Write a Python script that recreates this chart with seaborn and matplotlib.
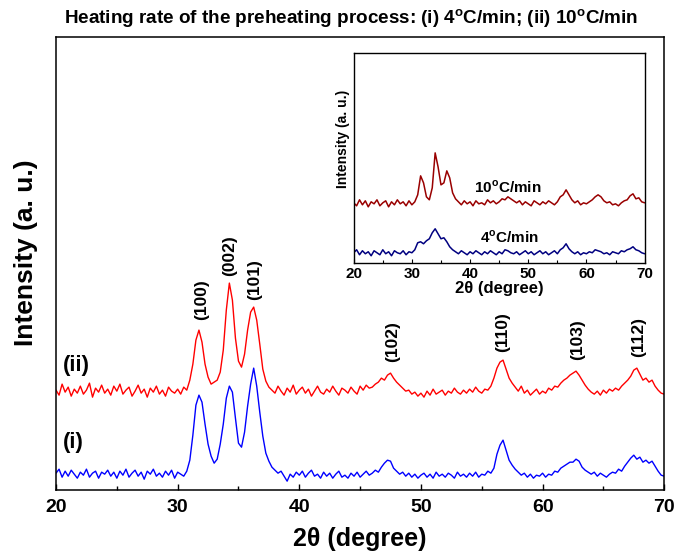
#!/usr/bin/env python3
"""
XRD patterns of ZnO films for two preheating rates, with an inset
showing the same patterns recorded on a smaller scale.
"""

import numpy as np
import matplotlib
matplotlib.use("Agg")
import matplotlib.pyplot as plt
from matplotlib.ticker import MultipleLocator
import seaborn as sns

# ── data ──────────────────────────────────────────────────────
# main panel: 2theta 20..70 in 0.25 degree steps
two_theta_main = np.linspace(20, 70, 201)

intensity_i = [
    17, 21, 13, 19, 14, 20, 16, 12,
    18, 15, 21, 13, 17, 19, 12, 18,
    16, 20, 14, 18, 12, 19, 15, 21,
    13, 17, 20, 14, 18, 11, 19, 16,
    21, 14, 17, 13, 19, 15, 20, 12,
    18, 16, 14, 19, 30, 55, 85, 95,
    88, 66, 46, 34, 27, 31, 46, 66,
    92, 104, 98, 72, 47, 43, 58, 84,
    106, 122, 104, 78, 54, 37, 29, 23,
    20, 17, 19, 14, 9, 16, 13, 18,
    15, 19, 13, 17, 20, 14, 16, 12,
    18, 14, 17, 12, 16, 19, 13, 15,
    12, 17, 14, 18, 13, 16, 19, 15,
    17, 20, 18, 23, 27, 30, 29, 22,
    19, 16, 18, 14, 17, 13, 16, 12,
    15, 17, 13, 16, 12, 18, 14, 16,
    13, 17, 15, 12, 18, 14, 16, 13,
    17, 14, 18, 13, 16, 15, 19, 17,
    22, 36, 45, 50, 40, 30, 25, 21,
    18, 15, 17, 13, 16, 12, 15, 14,
    17, 13, 16, 15, 19, 18, 22, 24,
    26, 28, 28, 31, 29, 23, 20, 18,
    16, 18, 14, 17, 15, 13, 16, 18,
    17, 21, 19, 24, 28, 32, 35, 31,
    33, 28, 30, 27, 29, 24, 19, 15,
    14,
]

intensity_ii = [
    100, 95, 106, 98, 103, 94, 101, 97,
    104, 96, 100, 107, 93, 102, 98, 105,
    97, 101, 95, 104, 99, 106, 96, 100,
    103, 94, 99, 105, 97, 101, 93, 102,
    98, 104, 96, 100, 94, 103, 99, 97,
    101, 96, 103, 100, 110, 126, 150, 160,
    148, 126, 113, 106, 108, 110, 118, 140,
    180, 207, 190, 152, 129, 123, 136, 160,
    178, 183, 170, 146, 121, 109, 103, 100,
    97, 104, 99, 95, 102, 98, 105, 96,
    100, 103, 97, 101, 94, 99, 104, 98,
    96, 101, 98, 104, 99, 95, 102, 100,
    97, 103, 99, 96, 104, 100, 105, 102,
    103, 106, 108, 112, 110, 115, 117, 112,
    108, 105, 102, 99, 100, 96, 98, 94,
    97, 93, 99, 95, 101, 96, 98, 100,
    95, 99, 97, 102, 98, 96, 100, 97,
    101, 98, 103, 99, 97, 101, 100, 104,
    112, 122, 128, 130, 121, 112, 107, 103,
    99, 104, 97, 100, 95, 98, 101, 96,
    99, 97, 102, 100, 104, 103, 107, 110,
    112, 115, 117, 119, 115, 110, 105, 101,
    98, 96, 99, 95, 100, 97, 101, 99,
    102, 100, 104, 107, 110, 114, 120, 122,
    116, 110, 112, 108, 110, 104, 100, 97,
    96,
]

# inset: 2theta 20..70 in 0.5 degree steps
two_theta_inset = np.linspace(20, 70, 101)

inset_10 = [
    60, 57, 63, 58, 62, 56, 61, 59,
    63, 57, 60, 62, 56, 61, 58, 63,
    59, 61, 57, 62, 58, 61, 68, 87,
    80, 66, 63, 75, 110, 96, 78, 80,
    92, 85, 70, 64, 61, 58, 62, 59,
    61, 57, 62, 59, 60, 58, 63, 60,
    62, 59, 61, 64, 63, 66, 64, 62,
    60, 62, 58, 61, 59, 57, 62, 60,
    58, 61, 59, 62, 60, 58, 61, 66,
    68, 73, 68, 63, 60, 62, 58, 60,
    59, 61, 63, 66, 68, 66, 62, 60,
    61, 58, 59, 57, 60, 62, 63, 67,
    69, 64, 65, 61,
    60,
]

inset_4 = [
    10, 13, 8, 12, 9, 11, 7, 12,
    10, 8, 13, 9, 11, 7, 12, 10,
    9, 12, 8, 11, 10, 13, 20, 21,
    19, 22, 24, 30, 34, 29, 24, 25,
    21, 16, 13, 11, 9, 12, 10, 8,
    11, 9, 12, 10, 8, 11, 9, 12,
    10, 8, 11, 9, 13, 12, 10, 9,
    11, 8, 10, 12, 9, 11, 8, 10,
    12, 9, 11, 8, 10, 12, 9, 13,
    15, 19, 14, 11, 9, 11, 8, 10,
    9, 11, 10, 13, 12, 11, 9, 10,
    8, 11, 10, 9, 12, 11, 13, 14,
    16, 13, 12, 10,
    9,
]

# peak labels: (hkl, 2theta, y of label bottom)
peak_labels = ["(100)", "(002)", "(101)", "(102)", "(110)", "(103)", "(112)"]
peak_pos = [32.0, 34.3, 36.3, 47.7, 56.7, 62.85, 67.9]
peak_label_y = [170, 214, 190, 128, 138, 130, 133]

DEG = r"$^{\mathbf{o}}$"
TITLE = f"Heating rate of the preheating process: (i) 4{DEG}C/min; (ii) 10{DEG}C/min"


def style_frame(ax, lw=1.1):
    for sp in ax.spines.values():
        sp.set_visible(True)
        sp.set_linewidth(lw)
        sp.set_color("black")


def main():
    sns.set_style("white")
    plt.rcParams["font.family"] = ["Liberation Sans", "DejaVu Sans"]
    plt.rcParams["font.weight"] = "bold"
    plt.rcParams["mathtext.fontset"] = "custom"
    plt.rcParams["mathtext.rm"] = "Liberation Sans:bold"
    plt.rcParams["mathtext.bf"] = "Liberation Sans:bold"
    for key in ("text.color", "axes.labelcolor", "xtick.color", "ytick.color"):
        plt.rcParams[key] = "black"

    fig = plt.figure(figsize=(6.75, 5.52), dpi=100)
    ax = fig.add_axes([0.083, 0.112, 0.901, 0.821])

    # ── main patterns ─────────────────────────────────────────
    sns.lineplot(x=two_theta_main, y=intensity_ii, ax=ax, color="#ff0000", lw=1.0)
    sns.lineplot(x=two_theta_main, y=intensity_i, ax=ax, color="#0000ff", lw=1.0)

    ax.set_xlim(20, 70)
    ax.set_ylim(0, 453)
    ax.set_yticks([])
    ax.xaxis.set_major_locator(MultipleLocator(10))
    ax.xaxis.set_minor_locator(MultipleLocator(5))
    ax.tick_params(axis="x", which="both", direction="in", bottom=True, top=False)
    ax.tick_params(axis="x", which="major", length=4, width=1, labelsize=14, pad=6)
    ax.tick_params(axis="x", which="minor", length=3, width=1)
    for lab in ax.get_xticklabels():
        lab.set_fontweight("bold")
    style_frame(ax)

    ax.set_xlabel("2θ (degree)", fontsize=18, fontweight="bold")
    ax.xaxis.set_label_coords(0.5, -0.082)
    ax.xaxis.label.set_va("top")
    ax.set_ylabel("Intensity (a. u.)", fontsize=19, fontweight="bold")
    ax.yaxis.set_label_coords(-0.03, 0.523)

    for lab, x, y in zip(peak_labels, peak_pos, peak_label_y):
        ax.text(x, y, lab, rotation=90, ha="center", va="bottom",
                fontsize=12.5, fontweight="bold")

    ax.text(20.6, 125, "(ii)", ha="left", va="center", fontsize=16, fontweight="bold")
    ax.text(20.6, 48, "(i)", ha="left", va="center", fontsize=16, fontweight="bold")

    fig.text(0.52, 0.967, TITLE, ha="center", va="center", fontsize=13.6, fontweight="bold")

    # ── inset ─────────────────────────────────────────────────
    ins = fig.add_axes([0.524, 0.524, 0.431, 0.380])
    sns.lineplot(x=two_theta_inset, y=inset_10, ax=ins, color="#990000", lw=1.1)
    sns.lineplot(x=two_theta_inset, y=inset_4, ax=ins, color="#000080", lw=1.1)
    ins.set_xlim(20, 70)
    ins.set_ylim(0, 210)
    ins.set_yticks([])
    ins.xaxis.set_major_locator(MultipleLocator(10))
    ins.xaxis.set_minor_locator(MultipleLocator(5))
    ins.tick_params(axis="x", which="both", direction="in", bottom=True, top=False)
    ins.tick_params(axis="x", which="major", length=3, width=0.8, labelsize=11, pad=3)
    ins.tick_params(axis="x", which="minor", length=2, width=0.8)
    for lab in ins.get_xticklabels():
        lab.set_fontweight("bold")
    style_frame(ins, lw=1.0)
    ins.set_xlabel("2θ (degree)", fontsize=12, fontweight="bold", labelpad=0)
    ins.set_ylabel("Intensity (a. u.)", fontsize=10, fontweight="bold")
    ins.yaxis.set_label_coords(-0.012, 0.59)
    ins.text(46.5, 76, f"10{DEG}C/min", ha="center", va="center", fontsize=11, fontweight="bold")
    ins.text(46.8, 26, f"4{DEG}C/min", ha="center", va="center", fontsize=11, fontweight="bold")

    fig.savefig("out.png", dpi=100)
    plt.close(fig)


if __name__ == "__main__":
    main()
